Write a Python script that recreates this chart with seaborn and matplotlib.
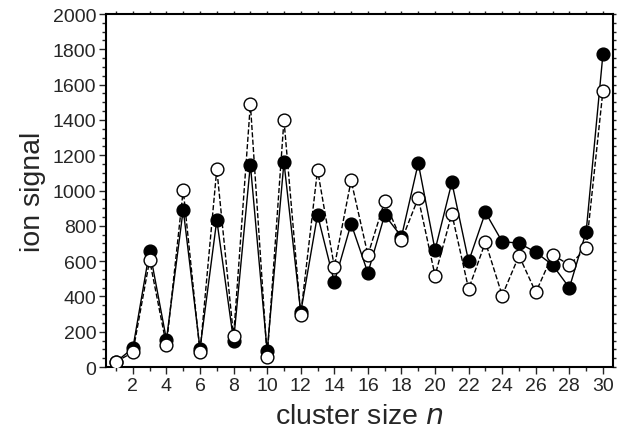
import matplotlib
matplotlib.use("Agg")
import matplotlib.pyplot as plt
import seaborn as sns
import pandas as pd
from matplotlib.ticker import MultipleLocator

n = list(range(1, 31))
filled = [30, 106, 660, 155, 892, 103, 833, 148, 1147, 89,
          1160, 310, 862, 480, 812, 533, 862, 738, 1155, 663,
          1046, 598, 876, 710, 702, 650, 578, 449, 767, 1773]
opened = [30, 83, 606, 122, 1003, 83, 1122, 173, 1490, 55,
          1400, 297, 1117, 568, 1057, 635, 940, 717, 958, 518,
          868, 442, 708, 405, 631, 423, 636, 578, 672, 1566]

df_f = pd.DataFrame({"n": n, "signal": filled})
df_o = pd.DataFrame({"n": n, "signal": opened})

sns.set_style("ticks")
plt.rcParams["font.family"] = ["Liberation Sans", "DejaVu Sans"]

fig = plt.figure(figsize=(6.29, 4.39), dpi=100)
ax = fig.add_axes([0.1685, 0.1617, 0.8061, 0.8041])

sns.lineplot(data=df_f, x="n", y="signal", ax=ax, color="black", linewidth=1.0,
             marker="o", markersize=9.2, markerfacecolor="black",
             markeredgecolor="black", markeredgewidth=1.0, zorder=3)
sns.lineplot(data=df_o, x="n", y="signal", ax=ax, color="black", linewidth=1.0,
             linestyle="--", dashes=(3, 2.5), marker="o", markersize=9.2,
             markerfacecolor="white", markeredgecolor="black",
             markeredgewidth=1.0, zorder=4)

ax.set_xlim(0.4, 30.6)
ax.set_ylim(0, 2000)
ax.xaxis.set_major_locator(MultipleLocator(2))
ax.xaxis.set_minor_locator(MultipleLocator(1))
ax.yaxis.set_major_locator(MultipleLocator(200))
ax.yaxis.set_minor_locator(MultipleLocator(50))
ax.tick_params(which="major", direction="out", length=5, width=1.0,
               labelsize=14, pad=2)
ax.tick_params(which="minor", direction="out", length=3, width=1.0)
ax.tick_params(which="both", top=True, right=True, labeltop=False, labelright=False)
for t in ax.xaxis.get_ticklines(minor=False)[1::2] + ax.xaxis.get_ticklines(minor=True)[1::2]:
    t.set_markersize(2)
for t in ax.yaxis.get_ticklines(minor=False)[1::2] + ax.yaxis.get_ticklines(minor=True)[1::2]:
    t.set_markersize(2)
for s in ax.spines.values():
    s.set_linewidth(1.5)
    s.set_color("black")

ax.set_xlabel("cluster size $\\it{n}$", fontsize=20.5, labelpad=7)
ax.set_ylabel("ion signal", fontsize=20.5, labelpad=5)

fig.savefig("out.png", dpi=100)
